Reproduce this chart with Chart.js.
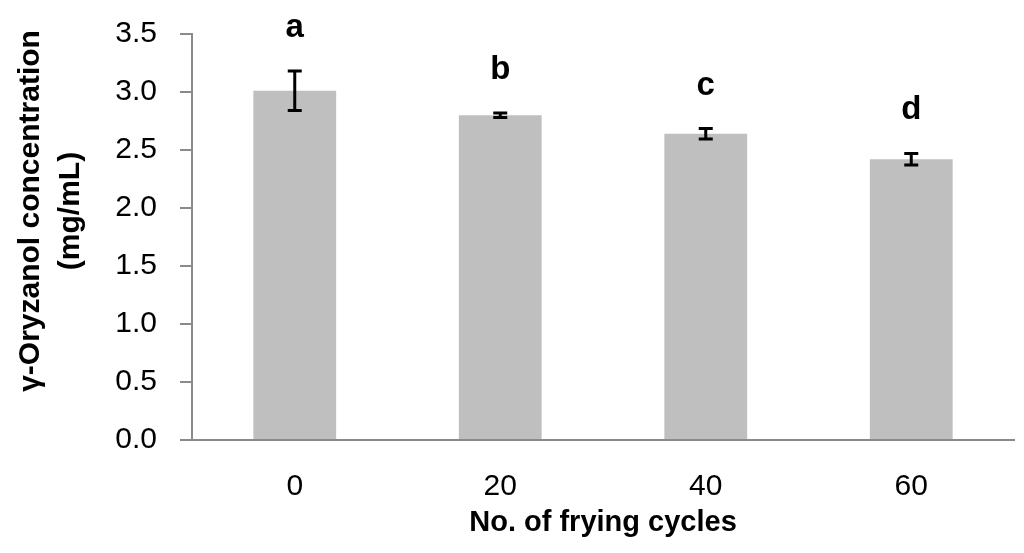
<!DOCTYPE html>
<html>
<head>
<meta charset="utf-8">
<script src="https://cdn.jsdelivr.net/npm/chart.js@4"></script>
<style>
  html, body { margin: 0; padding: 0; background: #fff; }
  #wrap { width: 1024px; height: 553px; }
</style>
</head>
<body>
<div id="wrap"><canvas id="chart" width="1024" height="553"></canvas></div>
<script>
// values
const cycles = ["0", "20", "40", "60"]
const concentration = [3.01, 2.80, 2.64, 2.42]
const errors = [0.17, 0.02, 0.045, 0.05]
const letters = ["a", "b", "c", "d"]
const yTitle = ["γ-Oryzanol concentration", "(mg/mL)"]

const FONT = '"Liberation Sans", Arial, sans-serif'
const AXIS = "#8a8a8a"

// error bars + significance letters
const errorBars = {
  id: "errorBars",
  afterDatasetsDraw(chart) {
    const {ctx, scales: {y}} = chart
    const meta = chart.getDatasetMeta(0)
    ctx.save()
    ctx.strokeStyle = "#000"
    ctx.fillStyle = "#000"
    ctx.lineWidth = 3
    ctx.font = "bold 33px " + FONT
    ctx.textAlign = "center"
    ctx.textBaseline = "alphabetic"
    meta.data.forEach((bar, i) => {
      const hi = y.getPixelForValue(concentration[i] + errors[i])
      const lo = y.getPixelForValue(concentration[i] - errors[i])
      const x = bar.x
      ctx.beginPath()
      ctx.moveTo(x, hi); ctx.lineTo(x, lo)
      ctx.moveTo(x - 7, hi); ctx.lineTo(x + 7, hi)
      ctx.moveTo(x - 7, lo); ctx.lineTo(x + 7, lo)
      ctx.stroke()
      ctx.fillText(letters[i], x, hi - 34)
    })
    ctx.restore()
  }
}

// y title sits a bit above the middle of the axis in the original, so draw it here
const yAxisTitle = {
  id: "yAxisTitle",
  afterDraw(chart) {
    const {ctx, chartArea} = chart
    const cy = (chartArea.top + chartArea.bottom) / 2 - 26
    ctx.save()
    ctx.fillStyle = "#000"
    ctx.font = "bold 30px " + FONT
    ctx.textAlign = "center"
    ctx.textBaseline = "middle"
    ctx.translate(0, cy)
    ctx.rotate(-Math.PI / 2)
    yTitle.forEach((line, i) => ctx.fillText(line, 0, 31 + i * 40))
    ctx.restore()
  }
}

new Chart(document.getElementById("chart"), {
  type: "bar",
  data: {
    labels: cycles,
    datasets: [{
      data: concentration,
      backgroundColor: "#bfbfbf",
      borderWidth: 0,
      categoryPercentage: 1,
      barPercentage: 0.403
    }]
  },
  options: {
    responsive: false,
    animation: false,
    layout: { padding: { top: 34, right: 10, left: 0, bottom: 0 } },
    plugins: { legend: { display: false }, tooltip: { enabled: false } },
    scales: {
      x: {
        grid: { display: false, drawTicks: false },
        border: { display: true, color: AXIS, width: 2 },
        ticks: { color: "#000", font: { family: FONT, size: 30 }, padding: 29, maxRotation: 0 },
        title: {
          display: true,
          text: "No. of frying cycles",
          color: "#000",
          font: { family: FONT, size: 29, weight: "bold", lineHeight: 1.2 },
          padding: { top: 0, bottom: 13 }
        },
        afterFit(scale) { scale.height = 113 }
      },
      y: {
        min: 0,
        max: 3.5,
        grid: { drawOnChartArea: false, drawTicks: true, tickLength: 12, color: AXIS, lineWidth: 2 },
        border: { display: true, color: AXIS, width: 2 },
        ticks: {
          stepSize: 0.5,
          color: "#000",
          font: { family: FONT, size: 30 },
          padding: 23,
          callback: (v) => Number(v).toFixed(1)
        },
        afterFit(scale) {
          scale.width = 192
          scale.paddingTop = 0
          scale.paddingBottom = 0
        }
      }
    }
  },
  plugins: [errorBars, yAxisTitle]
})
</script>
</body>
</html>
